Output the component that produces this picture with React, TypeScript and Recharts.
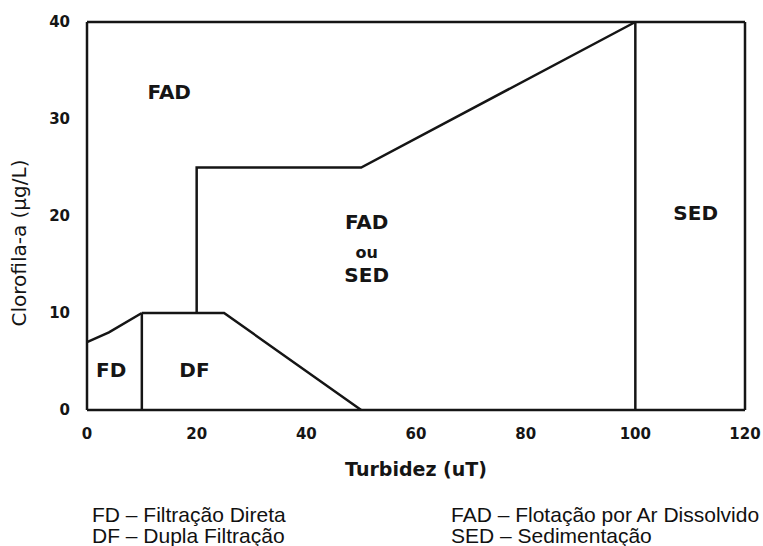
import {
  LineChart,
  Line,
  XAxis,
  YAxis,
  ReferenceLine,
  ReferenceDot,
  Label,
} from "recharts";

const xTicks = [0, 20, 40, 60, 80, 100, 120];
const yTicks = [0, 10, 20, 30, 40];

// region boundaries: x = turbidez (uT), y = clorofila-a (µg/L)
const fdTopX = [0, 4, 10];
const fdTopY = [7, 8, 10];
const fdDfX = [10, 10];
const fdDfY = [0, 10];
const dfTopX = [10, 25, 50];
const dfTopY = [10, 10, 0];
const fadSedX = [20, 20, 50, 100];
const fadSedY = [10, 25, 25, 40];
const sedX = [100, 100];
const sedY = [0, 40];

// region names placed inside the diagram
const regionNames = ["FAD", "FD", "DF", "FAD", "ou", "SED", "SED"];
const regionX = [15, 4.4, 19.6, 51, 51, 51, 111];
const regionY = [32.8, 4.1, 4.1, 19.4, 16.3, 13.9, 20.3];

const legendLeft = ["FD – Filtração Direta", "DF – Dupla Filtração"];
const legendRight = ["FAD – Flotação por Ar Dissolvido", "SED – Sedimentação"];

const toPoints = (xs: number[], ys: number[]) =>
  xs.map((x, i) => ({ x, y: ys[i] }));

const segments = [
  toPoints(fdTopX, fdTopY),
  toPoints(fdDfX, fdDfY),
  toPoints(dfTopX, dfTopY),
  toPoints(fadSedX, fadSedY),
  toPoints(sedX, sedY),
];

const INK = "#151515";
const LINE_W = 2.5;
const CHART_FONT = "'DejaVu Sans', sans-serif";

function YTitle(props: any) {
  const { viewBox } = props;
  const cx = viewBox.x + 19;
  const cy = viewBox.y + viewBox.height / 2 + 27;
  return (
    <text
      x={cx}
      y={cy}
      transform={`rotate(-90 ${cx} ${cy})`}
      textAnchor="middle"
      dominantBaseline="central"
      fontSize={20}
      fontFamily={CHART_FONT}
      fill={INK}
    >
      Clorofila-a (µg/L)
    </text>
  );
}

export default function App() {
  const tickStyle = {
    fill: INK,
    fontSize: 15,
    fontWeight: "bold",
    fontFamily: CHART_FONT,
  };
  const legendStyle = {
    position: "absolute" as const,
    top: 504,
    fontFamily: "'Liberation Sans', Arial, sans-serif",
    fontSize: 21,
    lineHeight: "21px",
    color: "#111",
    whiteSpace: "nowrap" as const,
  };

  return (
    <div
      style={{
        position: "absolute",
        left: 0,
        top: 0,
        width: 763,
        height: 546,
        overflow: "hidden",
        background: "#fff",
      }}
    >
      <LineChart
        width={763}
        height={500}
        margin={{ top: 22, right: 18, left: 0, bottom: 60 }}
      >
        <XAxis
          type="number"
          dataKey="x"
          domain={[0, 120]}
          ticks={xTicks}
          allowDuplicatedCategory={false}
          axisLine={{ stroke: INK, strokeWidth: LINE_W }}
          tickLine={false}
          tickMargin={12}
          tick={tickStyle}
          height={30}
        >
          <Label
            value="Turbidez (uT)"
            position="bottom"
            offset={23}
            fill={INK}
            fontSize={19}
            fontWeight="bold"
            fontFamily={CHART_FONT}
          />
        </XAxis>
        <YAxis
          type="number"
          dataKey="y"
          domain={[0, 40]}
          ticks={yTicks}
          width={87}
          axisLine={{ stroke: INK, strokeWidth: LINE_W }}
          tickLine={false}
          tickMargin={11}
          tick={tickStyle}
          label={<YTitle />}
        />
        <ReferenceLine y={40} stroke={INK} strokeWidth={LINE_W} />
        <ReferenceLine x={120} stroke={INK} strokeWidth={LINE_W} />
        {segments.map((pts, i) => (
          <Line
            key={i}
            data={pts}
            dataKey="y"
            type="linear"
            stroke={INK}
            strokeWidth={LINE_W}
            dot={false}
            activeDot={false}
            isAnimationActive={false}
          />
        ))}
        {regionNames.map((name, i) => (
          <ReferenceDot
            key={`r${i}`}
            x={regionX[i]}
            y={regionY[i]}
            r={0}
            fill="none"
            stroke="none"
            ifOverflow="visible"
            label={
              <Label
                value={name}
                position="center"
                fill={INK}
                fontSize={name === "ou" ? 16 : 20}
                fontWeight="bold"
                fontFamily={CHART_FONT}
              />
            }
          />
        ))}
      </LineChart>
      <div style={{ ...legendStyle, left: 92 }}>
        {legendLeft.map((t) => (
          <div key={t}>{t}</div>
        ))}
      </div>
      <div style={{ ...legendStyle, left: 451 }}>
        {legendRight.map((t) => (
          <div key={t}>{t}</div>
        ))}
      </div>
    </div>
  );
}
